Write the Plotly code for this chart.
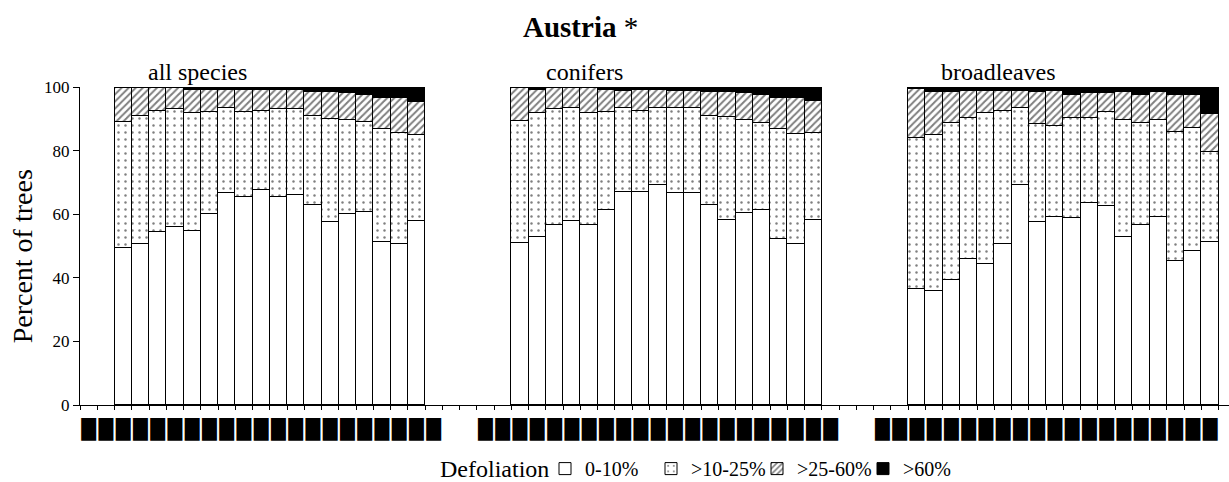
import plotly.graph_objects as go

# Survey years shown on each panel's axis, and the years with assessments
label_years = list(range(1987, 2008))
data_years = list(range(1989, 2007))

groups = ["all species", "conifers", "broadleaves"]

# Share of trees (%) per defoliation class, one value per year
all_c1 = [49.3, 50.7, 54.3, 56.1, 54.8, 60.1, 66.8, 65.5, 67.6, 65.5, 66.1, 63.0, 57.4, 60.1, 60.8, 51.4, 50.7, 58.0]
all_c2 = [39.8, 40.2, 38.2, 37.0, 36.9, 32.1, 26.7, 26.6, 24.9, 27.6, 27.0, 27.9, 32.6, 29.5, 28.1, 35.3, 34.7, 26.9]
all_c3 = [10.5, 8.7, 7.1, 6.5, 7.3, 6.8, 5.5, 6.9, 6.5, 5.9, 5.9, 7.5, 8.4, 8.6, 8.6, 9.7, 11.0, 10.3]
all_c4 = [0.4, 0.4, 0.4, 0.4, 1.0, 1.0, 1.0, 1.0, 1.0, 1.0, 1.0, 1.6, 1.6, 1.8, 2.5, 3.6, 3.6, 4.8]

con_c1 = [51.1, 52.7, 56.6, 57.9, 56.6, 61.3, 66.9, 66.9, 69.1, 66.8, 66.6, 63.0, 58.3, 60.4, 61.3, 52.2, 50.7, 58.3]
con_c2 = [38.3, 39.0, 36.5, 35.6, 35.1, 30.9, 26.6, 25.7, 24.4, 26.7, 26.9, 27.9, 32.2, 29.2, 27.5, 34.5, 34.4, 27.1]
con_c3 = [10.2, 7.5, 6.5, 6.1, 7.9, 6.8, 5.3, 6.6, 5.5, 5.3, 5.3, 7.5, 7.9, 8.4, 8.7, 9.7, 11.3, 10.3]
con_c4 = [0.4, 0.8, 0.4, 0.4, 0.4, 1.0, 1.2, 0.8, 1.0, 1.2, 1.2, 1.6, 1.6, 2.0, 2.5, 3.6, 3.6, 4.3]

broad_c1 = [36.5, 35.9, 39.2, 45.9, 44.2, 50.7, 69.1, 57.4, 59.2, 58.7, 63.5, 62.6, 52.7, 56.7, 59.2, 45.4, 48.5, 51.3]
broad_c2 = [47.4, 48.9, 49.6, 44.4, 47.7, 41.7, 24.2, 31.0, 28.5, 31.6, 26.8, 29.5, 36.9, 32.1, 30.4, 40.5, 38.5, 28.4]
broad_c3 = [15.4, 13.7, 9.7, 8.5, 6.9, 6.4, 5.5, 10.1, 11.1, 7.2, 7.7, 5.9, 8.9, 8.7, 8.9, 11.6, 10.5, 11.7]
broad_c4 = [0.7, 1.5, 1.5, 1.2, 1.2, 1.2, 1.2, 1.5, 1.2, 2.5, 2.0, 2.0, 1.5, 2.5, 1.5, 2.5, 2.5, 8.6]

class_names = ["0-10%", ">10-25%", ">25-60%", ">60%"]

# Tick glyph printed under every labelled year slot
tick_glyph = "\u2588"

SERIF = "Liberation Serif"

# Slot layout on a shared x axis: each panel has 21 year slots, panels
# separated by two empty slots
panel_start = [0, 23, 46]
n_label = len(label_years)
first_data = label_years.index(data_years[0])

label_pos = [s + i for s in panel_start for i in range(n_label)]
bar_pos = [s + first_data + i for s in panel_start for i in range(len(data_years))]
bar_years = data_years * len(groups)
bar_group = [g for g in groups for _ in data_years]

series = [
    all_c1 + con_c1 + broad_c1,
    all_c2 + con_c2 + broad_c2,
    all_c3 + con_c3 + broad_c3,
    all_c4 + con_c4 + broad_c4,
]

styles = [
    dict(color="white"),
    dict(color="white", pattern=dict(shape=".", fgcolor="black", bgcolor="white",
                                     size=7, solidity=0.1, fillmode="overlay")),
    dict(color="white", pattern=dict(shape="/", fgcolor="black", bgcolor="white",
                                     size=5, solidity=0.4, fillmode="overlay")),
    dict(color="black"),
]

fig = go.Figure()
for name, vals, st in zip(class_names, series, styles):
    fig.add_trace(go.Bar(
        x=bar_pos, y=vals, name=name, width=1.0,
        marker=dict(line=dict(color="black", width=1), **st),
        customdata=list(zip(bar_group, bar_years)),
        hovertemplate="%{customdata[0]} %{customdata[1]}: %{y}%<extra>" + name + "</extra>",
    ))

x_range = [-0.5, 66.1]
boundaries = [k - 0.5 for k in range(0, 68)]

# Group captions above each panel
captions_x = [3.3, 26.4, 49.3]
for text, xc in zip(groups, captions_x):
    fig.add_annotation(x=xc, y=100, xref="x", yref="y", text=text, showarrow=False,
                       xanchor="left", yanchor="bottom",
                       font=dict(family=SERIF, size=24, color="black"))

fig.add_annotation(x=-0.05, y=0.466, xref="paper", yref="paper", text="Percent of trees",
                   textangle=-90, showarrow=False, xanchor="center", yanchor="middle",
                   font=dict(family=SERIF, size=28, color="black"))

# Legend heading sits to the left of the class swatches
fig.add_annotation(x=0.3116, y=-0.2, xref="paper", yref="paper", text="Defoliation",
                   showarrow=False, xanchor="left", yanchor="middle",
                   font=dict(family=SERIF, size=24, color="black"))

fig.update_layout(
    width=1229, height=482,
    margin=dict(l=80, r=0, t=87, b=77, autoexpand=False),
    paper_bgcolor="white", plot_bgcolor="white",
    barmode="stack", bargap=0,
    font=dict(family=SERIF, color="black"),
    title=dict(text="<b>Austria</b> *", x=523 / 1229, xanchor="left", xref="container",
               y=0.945, yanchor="middle", yref="container",
               font=dict(family=SERIF, size=29, color="black")),
    xaxis=dict(
        range=x_range, showline=True, linecolor="black", linewidth=1,
        showgrid=False, zeroline=False, automargin=False,
        tickmode="array", tickvals=label_pos, ticktext=[tick_glyph] * len(label_pos),
        ticks="", tickangle=0, ticklabelstandoff=7,
        tickfont=dict(family="DejaVu Sans", size=19, color="black"),
        minor=dict(tickvals=boundaries, ticks="outside", ticklen=4, tickcolor="black", tickwidth=1),
    ),
    xaxis2=dict(
        range=x_range, overlaying="x", anchor="y", showline=False, showgrid=False,
        zeroline=False, tickmode="array", tickvals=boundaries, ticks="inside",
        ticklen=4, tickcolor="black", showticklabels=False,
    ),
    yaxis=dict(
        range=[0, 100], tickvals=[0, 20, 40, 60, 80, 100], showline=True,
        linecolor="black", linewidth=1, showgrid=False, zeroline=False, automargin=False,
        ticks="outside", ticklen=6, tickcolor="black",
        tickfont=dict(family=SERIF, size=17, color="black"),
    ),
    legend=dict(
        orientation="h", x=(545 - 80) / 1149, xanchor="left", y=-0.2, yanchor="middle",
        traceorder="normal", entrywidth=61,
        font=dict(family=SERIF, size=20, color="black"), itemwidth=30,
        bgcolor="rgba(0,0,0,0)",
    ),
    showlegend=True,
)

fig.write_html("out.html")
